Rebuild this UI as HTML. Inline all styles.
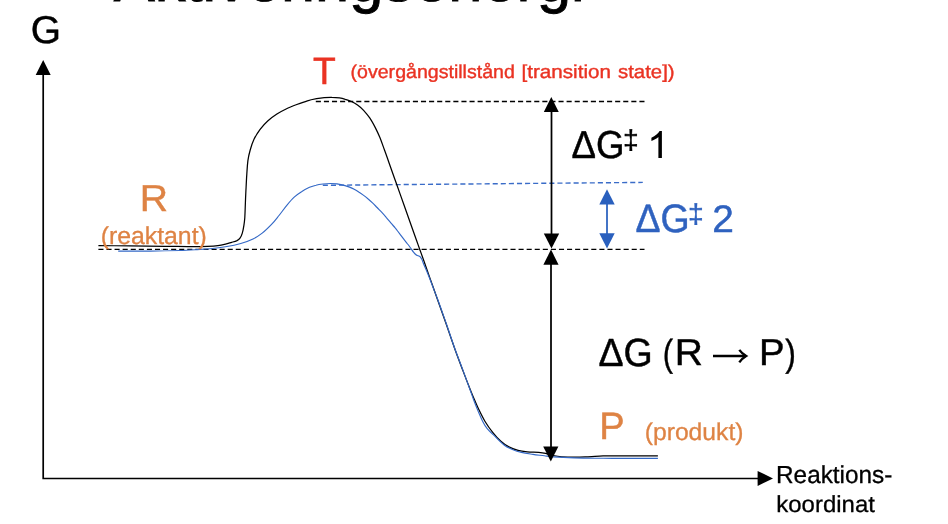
<!DOCTYPE html>
<html>
<head>
<meta charset="utf-8">
<style>
html,body{margin:0;padding:0;background:#fff;}
body{width:948px;height:524px;overflow:hidden;position:relative;font-family:"Liberation Sans",sans-serif;}
svg{position:absolute;left:0;top:0;display:block;will-change:transform;}
text{font-family:"Liberation Sans",sans-serif;text-rendering:geometricPrecision;}
</style>
</head>
<body>
<svg width="948" height="524" viewBox="0 0 948 524">
  <!-- title (cropped) -->
  <text x="113.8" y="1.2" font-size="61.4" fill="#000" stroke="#000" stroke-width="0.9">Aktiveringsenergi</text>

  <!-- axes -->
  <path d="M43.2 74 V478.5 H759" fill="none" stroke="#000" stroke-width="1.7"/>
  <path d="M43.2 60 L50.7 75 H35.7 Z" fill="#000"/>
  <path d="M773 478.4 L757.6 470.9 V485.9 Z" fill="#000"/>

  <!-- dashed lines -->
  <path d="M315.8 101.45 H644.5" stroke="#000" stroke-width="1.35" stroke-dasharray="5.09 3" fill="none"/>
  <path d="M98.4 249.3 H644.5" stroke="#000" stroke-width="1.35" stroke-dasharray="5.08 3" fill="none"/>
  <path d="M322.8 185.3 L642.8 182.4" stroke="#3a6cc8" stroke-width="1.4" stroke-dasharray="5.09 3" fill="none"/>

  <!-- black curve -->
  <path id="kb" d="M98.4 245.6 C108.9 245.7 119.5 245.8 130.0 245.9 C141.7 246.0 153.3 246.2 165.0 246.3 C175.0 246.4 185.0 246.7 195.0 246.7 C199.1 246.7 203.1 246.6 207.2 246.4 C210.8 246.2 214.4 246.0 217.9 245.6 C220.5 245.3 223.0 244.7 225.5 244.1 C227.6 243.6 229.6 242.9 231.6 242.3 C233.4 241.8 235.3 241.4 237.0 240.6 C238.2 240.0 239.2 239.2 240.0 238.1 C241.1 236.6 241.8 234.9 242.3 233.1 C243.1 230.6 243.5 228.0 243.9 225.4 C244.3 222.9 244.6 220.3 244.8 217.8 C245.1 212.7 245.2 207.6 245.4 202.5 C245.6 197.4 245.8 192.4 246.1 187.3 C246.3 183.0 246.5 178.7 246.8 174.4 C247.1 169.8 247.3 165.2 247.9 160.6 C248.4 157.0 249.2 153.5 250.2 150.0 C251.2 146.4 252.4 142.7 254.0 139.3 C255.7 135.8 257.8 132.5 260.1 129.4 C262.4 126.4 264.9 123.5 267.7 121.0 C270.5 118.4 273.7 116.2 276.9 114.1 C279.8 112.2 282.9 110.5 286.1 109.0 C289.6 107.3 293.2 105.9 296.8 104.5 C300.3 103.2 303.8 101.9 307.4 100.8 C310.4 99.9 313.5 99.3 316.6 98.7 C319.1 98.2 321.7 97.8 324.2 97.6 C326.8 97.4 329.3 97.2 331.9 97.3 C334.4 97.3 337.0 97.5 339.5 97.9 C341.5 98.2 343.4 98.7 345.3 99.3 C347.4 99.9 349.4 100.6 351.4 101.5 C353.5 102.5 355.6 103.6 357.5 105.0 C359.7 106.6 361.8 108.3 363.6 110.3 C365.9 112.8 368.0 115.4 369.9 118.2 C371.9 121.2 373.6 124.4 375.3 127.6 C377.0 130.9 378.5 134.2 379.9 137.6 C381.5 141.6 382.9 145.7 384.4 149.8 C386.0 154.1 387.5 158.4 389.0 162.7 C390.5 167.0 392.1 171.4 393.6 175.7 C394.7 178.9 395.9 182.0 397.0 185.2 C399.3 191.8 401.7 198.4 404.0 205.0 C406.5 212.2 409.1 219.3 411.6 226.5 C413.2 231.0 414.8 235.5 416.4 240.0 C417.5 243.1 418.6 246.1 419.7 249.2 C421.2 253.4 422.7 257.6 424.2 261.8 C425.9 266.7 427.7 271.7 429.4 276.6 C432.1 284.2 434.8 291.9 437.5 299.5 C440.4 307.7 443.3 315.8 446.2 324.0 C449.2 332.7 452.1 341.4 455.2 350.0 C457.7 356.9 460.3 363.7 462.9 370.6 C465.5 377.5 468.2 384.4 470.9 391.2 C472.1 394.2 473.3 397.1 474.6 400.0 C476.1 403.4 477.6 406.9 479.2 410.3 C481.0 414.0 482.8 417.7 484.9 421.2 C487.3 425.2 490.0 429.0 492.9 432.6 C495.3 435.7 498.0 438.6 500.9 441.2 C503.3 443.4 506.0 445.4 508.9 446.9 C511.8 448.4 514.9 449.6 518.1 450.4 C521.1 451.2 524.2 451.5 527.3 451.8 C531.1 452.2 534.9 452.1 538.7 452.4 C541.0 452.6 543.3 452.9 545.6 453.4 C548.1 453.9 550.5 455.0 553.0 455.5 C555.9 456.1 558.9 456.6 561.9 456.8 C566.0 457.1 570.2 457.2 574.3 457.2 C578.0 457.2 581.6 457.1 585.3 456.9 C588.5 456.8 591.7 456.5 594.9 456.3 C597.6 456.1 600.4 455.9 603.1 455.8 C608.7 455.7 614.4 455.8 620.0 455.8 C632.6 455.8 645.3 455.8 657.9 455.8" fill="none" stroke="#000" stroke-width="1.25" stroke-linejoin="round"/>

  <!-- blue curve -->
  <path id="kbl" d="M118.2 251.1 C128.8 251.1 139.4 251.2 150.0 251.1 C160.0 251.0 170.0 250.8 180.0 250.5 C185.0 250.3 190.0 250.0 195.0 249.7 C200.1 249.4 205.2 249.3 210.3 248.8 C215.4 248.3 220.5 247.7 225.5 246.8 C230.6 245.9 235.8 244.9 240.8 243.5 C245.0 242.3 249.1 240.9 253.0 239.0 C256.3 237.4 259.3 235.3 262.2 233.1 C265.5 230.6 268.4 227.7 271.3 224.7 C274.1 221.8 276.5 218.6 279.0 215.5 C281.6 212.3 283.9 208.8 286.6 205.6 C289.0 202.7 291.4 199.8 294.2 197.2 C296.5 195.0 299.2 193.2 301.9 191.5 C304.3 189.9 306.9 188.5 309.5 187.3 C311.6 186.4 313.8 185.7 316.0 185.2 C318.3 184.6 320.6 184.3 323.0 184.0 C325.5 183.7 328.0 183.5 330.5 183.5 C332.7 183.5 334.9 183.6 337.0 183.9 C339.7 184.3 342.4 184.9 345.0 185.6 C346.6 186.0 348.1 186.5 349.6 187.1 C351.2 187.7 352.7 188.4 354.2 189.2 C355.7 190.0 357.2 190.9 358.7 191.9 C360.3 192.9 361.8 194.0 363.3 195.1 C364.9 196.3 366.4 197.5 367.9 198.8 C369.5 200.1 371.0 201.5 372.5 202.9 C374.1 204.4 375.6 206.0 377.1 207.5 C378.6 209.1 380.1 210.6 381.6 212.2 C383.2 213.9 384.7 215.6 386.2 217.4 C387.8 219.2 389.2 221.1 390.8 222.9 C392.3 224.7 393.9 226.3 395.4 228.1 C396.2 229.0 396.9 230.0 397.6 231.0 C399.4 233.4 401.2 235.8 403.0 238.2 C404.5 240.2 406.1 242.0 407.6 244.0 C408.8 245.5 409.9 247.1 411.0 248.6 C411.9 249.9 412.7 251.2 413.7 252.4 C414.4 253.3 415.1 254.1 416.0 254.8 C416.6 255.3 417.5 255.4 418.2 255.7 C418.9 256.0 419.6 256.3 420.2 256.8 C420.8 257.4 421.3 258.2 421.7 259.0 C422.5 260.6 422.9 262.3 423.6 263.9 C424.6 266.2 425.6 268.5 426.6 270.8 C427.6 273.3 428.6 275.7 429.6 278.2 C431.2 282.3 432.7 286.3 434.2 290.4 C435.4 293.4 436.6 296.4 437.7 299.5 C440.7 307.6 443.5 315.8 446.4 324.0 C449.4 332.7 452.2 341.4 455.3 350.0 C457.8 356.9 460.5 363.7 463.1 370.6 C465.6 377.5 468.1 384.3 470.6 391.2 C471.7 394.1 472.6 397.1 473.7 400.0 C475.1 403.7 476.5 407.3 478.0 410.9 C479.5 414.4 480.9 417.9 482.6 421.2 C483.9 423.8 485.4 426.4 487.2 428.6 C489.6 431.5 492.5 434.0 495.2 436.6 C498.2 439.5 501.0 442.7 504.4 445.2 C506.8 447.0 509.6 448.3 512.4 449.5 C515.3 450.7 518.4 451.7 521.5 452.4 C525.3 453.3 529.2 453.8 533.0 454.4 C536.8 455.0 540.6 455.3 544.4 455.8 C547.5 456.2 550.6 456.7 553.7 456.9 C560.6 457.4 567.4 457.7 574.3 457.9 C583.9 458.2 593.5 458.2 603.1 458.3 C612.1 458.4 621.0 458.3 630.0 458.3 C639.3 458.3 648.6 458.3 657.9 458.3" fill="none" stroke="#3368c6" stroke-width="1.15" stroke-linejoin="round"/>

  <!-- arrows -->
  <!-- dG1 -->
  <path d="M551.5 110 V236" stroke="#000" stroke-width="1.75" fill="none"/>
  <path d="M551.3 97.1 L558.75 111.9 H543.85 Z" fill="#000"/>
  <path d="M551.5 248.6 L559.2 233.4 H543.8 Z" fill="#000"/>
  <!-- dG -->
  <path d="M551 262 V449" stroke="#000" stroke-width="1.75" fill="none"/>
  <path d="M551 249.6 L558.6 264.7 H543.4 Z" fill="#000"/>
  <path d="M550.8 461.6 L558.4 446.6 H543.2 Z" fill="#000"/>
  <!-- dG2 blue -->
  <path d="M607 202 V236" stroke="#2a60be" stroke-width="1.75" fill="none"/>
  <path d="M607 189.3 L614.7 204.6 H599.3 Z" fill="#2a60be"/>
  <path d="M607 248.4 L614.7 233.2 H599.3 Z" fill="#2a60be"/>

  <!-- labels -->
  <text transform="translate(30.78,42.78) scale(1.0424,1.0393)" font-size="37.3" fill="#000" stroke="#000" stroke-width="0.45" stroke-linejoin="miter">G</text>
  <text transform="translate(139.71,211.35) scale(1.0505,1.0077)" font-size="37.3" fill="#de8344" stroke="#de8344" stroke-width="0.45" stroke-linejoin="miter">R</text>
  <text transform="translate(100.71,243.51) scale(1.0330,1.0178)" font-size="24" fill="#de8344" stroke="#de8344" stroke-width="0.3" stroke-linejoin="miter">(reaktant)</text>
  <text transform="translate(313.10,83.65) scale(0.9977,1.0171)" font-size="37.3" fill="#ea3323" stroke="#ea3323" stroke-width="0.55" stroke-linejoin="miter">T</text>
  <text transform="translate(571.52,158.08) scale(0.9822,1.0430)" font-size="37.3" fill="#000" stroke="#000" stroke-width="0.45" stroke-linejoin="miter">ΔG</text>
  <text transform="translate(623.03,149.12) scale(1.1810,1.1325)" font-size="24" fill="#000" stroke="#000" stroke-width="0.35" stroke-linejoin="miter">‡</text>
  <text transform="translate(635.40,232.17) scale(1.0040,1.0617)" font-size="37.3" fill="#2f62bf" stroke="#2f62bf" stroke-width="0.45" stroke-linejoin="miter">ΔG</text>
  <text transform="translate(688.03,222.92) scale(1.1810,1.1325)" font-size="24" fill="#2f62bf" stroke="#2f62bf" stroke-width="0.35" stroke-linejoin="miter">‡</text>
  <text transform="translate(712.27,231.64) scale(1.0435,1.0302)" font-size="37.3" fill="#2f62bf" stroke="#2f62bf" stroke-width="0.45" stroke-linejoin="miter">2</text>
  <text transform="translate(598.49,366.07) scale(1.0059,1.0542)" font-size="37.3" fill="#000" stroke="#000" stroke-width="0.45" stroke-linejoin="miter">ΔG</text>
  <text transform="translate(662.64,365.84) scale(0.8286,1.0071)" font-size="37.3" fill="#000" stroke="#000" stroke-width="0.4" stroke-linejoin="miter">(</text>
  <text transform="translate(674.72,365.45) scale(1.0462,1.0077)" font-size="37.3" fill="#000" stroke="#000" stroke-width="0.45" stroke-linejoin="miter">R</text>
  <text transform="translate(758.88,365.45) scale(1.0272,1.0077)" font-size="37.3" fill="#000" stroke="#000" stroke-width="0.45" stroke-linejoin="miter">P</text>
  <text transform="translate(785.31,365.84) scale(0.8571,1.0071)" font-size="37.3" fill="#000" stroke="#000" stroke-width="0.4" stroke-linejoin="miter">)</text>
  <text transform="translate(599.29,439.35) scale(1.0222,1.0192)" font-size="37.3" fill="#de8344" stroke="#de8344" stroke-width="0.45" stroke-linejoin="miter">P</text>
  <text transform="translate(644.71,439.63) scale(1.0289,1.0133)" font-size="24" fill="#de8344" stroke="#de8344" stroke-width="0.3" stroke-linejoin="miter">(produkt)</text>
  <text transform="translate(776.02,482.74) scale(1.0143,1.0254)" font-size="24" fill="#000" stroke="#000" stroke-width="0.3" stroke-linejoin="miter">Reaktions-</text>
  <text transform="translate(776.30,512.26) scale(0.9985,0.9634)" font-size="24" fill="#000" stroke="#000" stroke-width="0.3" stroke-linejoin="miter">koordinat</text>
  <text transform="translate(350.56,77.9) scale(1.0418,1)" font-size="18.8" fill="#ea3323" stroke="#ea3323" stroke-width="0.4" stroke-linejoin="miter">(övergångstillstånd</text>
  <text transform="translate(521.53,77.9) scale(1.0978,1)" font-size="18.8" fill="#ea3323" stroke="#ea3323" stroke-width="0.4" stroke-linejoin="miter">[transition</text>
  <text transform="translate(618.03,77.9) scale(1.0843,1)" font-size="18.8" fill="#ea3323" stroke="#ea3323" stroke-width="0.4" stroke-linejoin="miter">state])</text>

  <!-- digit 1 (no foot) -->
  <path transform="translate(647.06,158.1) scale(0.01944,-0.018486)" d="M763 0H583V1147Q518 1085 412.5 1023T223 930V1104Q373.5 1174.5 486 1275T645 1466H763Z" fill="#000"/>
  <!-- arrow glyph -->
  <path d="M713 356.1 H745.5" stroke="#000" stroke-width="2.5" fill="none"/>
  <path d="M739.3 349.9 Q742 353.6 746.1 356.1 Q742 358.6 739.3 362.4" stroke="#000" stroke-width="2.4" fill="none" stroke-linejoin="miter"/>
</svg>
</body>
</html>
